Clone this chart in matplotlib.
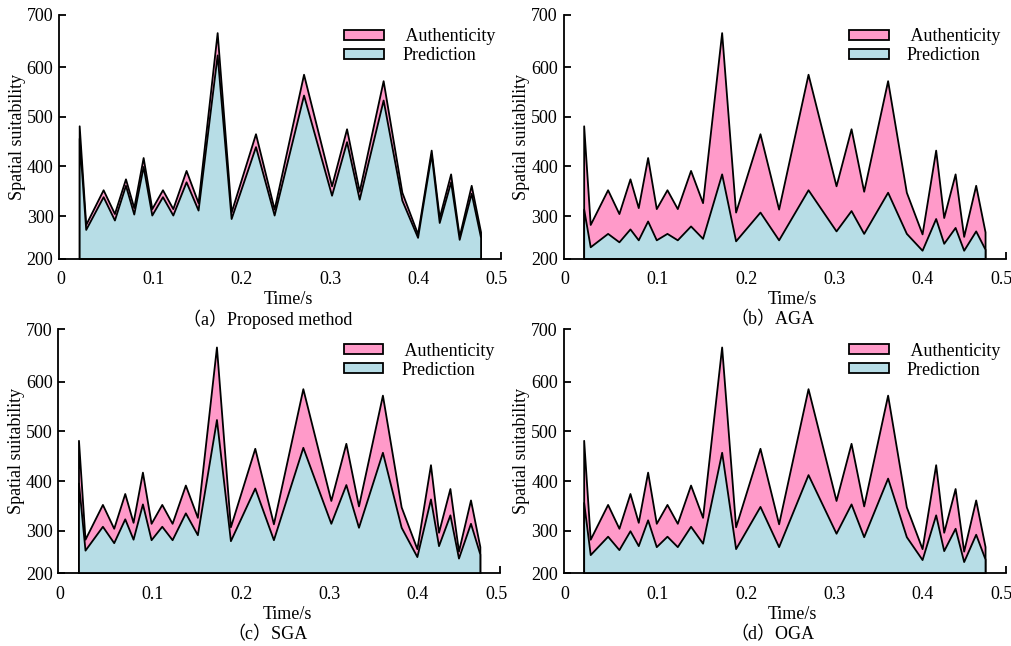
import numpy as np
import matplotlib.pyplot as plt

plt.rcParams['font.family'] = ['Liberation Serif', 'Noto Sans CJK SC']
plt.rcParams['font.size'] = 13

# time stamps of the samples (s)
time_s = [0.016, 0.0234, 0.0431, 0.0559, 0.0684, 0.0778, 0.0884, 0.0982, 0.1103, 0.1220,
          0.1370, 0.1506, 0.1722, 0.1880, 0.2156, 0.2367, 0.2700, 0.3017, 0.3187, 0.3330,
          0.3601, 0.3813, 0.3991, 0.4145, 0.4236, 0.4365, 0.4462, 0.4598, 0.4704]

# measured spatial suitability
authenticity = [482, 283, 353, 305, 375, 317, 418, 315, 353, 315,
                392, 327, 670, 308, 466, 314, 586, 361, 476, 350,
                573, 348, 264, 433, 297, 385, 259, 362, 268]

# predictions of each method
pred_proposed = [457, 273, 339, 292, 362, 304, 400, 302, 339, 302,
                 369, 312, 625, 295, 440, 302, 544, 342, 450, 334,
                 534, 332, 257, 425, 287, 369, 253, 346, 257]
pred_aga = [314, 238, 265, 248, 274, 252, 290, 252, 265, 252,
            280, 255, 385, 250, 308, 252, 353, 270, 311, 265,
            348, 265, 231, 295, 245, 277, 231, 270, 233]
pred_sga = [396, 261, 309, 276, 324, 283, 354, 282, 309, 282,
            336, 292, 524, 280, 386, 282, 468, 315, 393, 307,
            458, 307, 248, 364, 270, 332, 245, 315, 253]
pred_oga = [357, 252, 289, 262, 300, 270, 322, 268, 289, 268,
            309, 275, 458, 264, 349, 268, 413, 295, 354, 288,
            406, 288, 242, 332, 260, 305, 238, 293, 243]

captions = ['（a）Proposed method', '（b）AGA', '（c）SGA', '（d）OGA']
predictions = [pred_proposed, pred_aga, pred_sga, pred_oga]

# axis ends as drawn in the original (end labels sit on the axis ends)
x_left, x_right = -0.0068, 0.4936
y_bottom, y_top = 214.3, 705.5
x_ticks = [-0.0049, 0.1, 0.2, 0.3, 0.4, 0.4887]
x_labels = ['0', '0.1', '0.2', '0.3', '0.4', '0.5']
y_ticks = [y_bottom, 300, 400, 500, 600, y_top]
y_labels = ['200', '300', '400', '500', '600', '700']

pink = '#ff9ac9'
blue = '#b7dde6'

fig = plt.figure(figsize=(10.11, 6.46), dpi=100)
boxes = [[0.0584, 0.5998, 0.4372, 0.377],
         [0.5574, 0.5998, 0.4372, 0.377],
         [0.0577, 0.1125, 0.4372, 0.3777],
         [0.5574, 0.1125, 0.4372, 0.3777]]

for box, cap, pred in zip(boxes, captions, predictions):
    ax = fig.add_axes(box)
    ax.fill_between(time_s, y_bottom, authenticity, facecolor=pink,
                    edgecolor='black', linewidth=1.3, label=' Authenticity')
    ax.fill_between(time_s, y_bottom, pred, facecolor=blue,
                    edgecolor='black', linewidth=1.3, label='Prediction')

    ax.set_xlim(x_left, x_right)
    ax.set_ylim(y_bottom, y_top)
    ax.spines['top'].set_visible(False)
    ax.spines['right'].set_visible(False)
    ax.spines['left'].set_linewidth(1.3)
    ax.spines['bottom'].set_linewidth(1.3)

    ax.set_xticks(x_ticks)
    ax.set_xticklabels(x_labels)
    ax.set_yticks(y_ticks)
    ax.set_yticklabels(y_labels)
    ax.set_xticks([x_right], minor=True)
    ax.tick_params(axis='x', which='major', length=0, pad=9, labelsize=13)
    ax.tick_params(axis='x', which='minor', direction='in', length=5, width=1.3)
    ax.tick_params(axis='y', direction='in', length=5, width=1.3, pad=4, labelsize=13)

    ax.set_xlabel('Time/s', fontsize=13)
    ax.xaxis.label.set_va('center')
    ax.xaxis.set_label_coords(0.518, -0.168)
    ax.set_ylabel('Spatial suitability', fontsize=13)
    ax.yaxis.label.set_va('center')
    ax.yaxis.set_label_coords(-0.095, 0.5)

    ax.text(0.473, -0.25, cap, transform=ax.transAxes, ha='center', va='center', fontsize=13)

    ax.legend(loc='upper left', bbox_to_anchor=(0.625, 0.982), frameon=False,
              borderpad=0, handlelength=2.2, handleheight=0.5, handletextpad=1.0,
              labelspacing=0.1, fontsize=13)

fig.savefig('out.png', dpi=100)
